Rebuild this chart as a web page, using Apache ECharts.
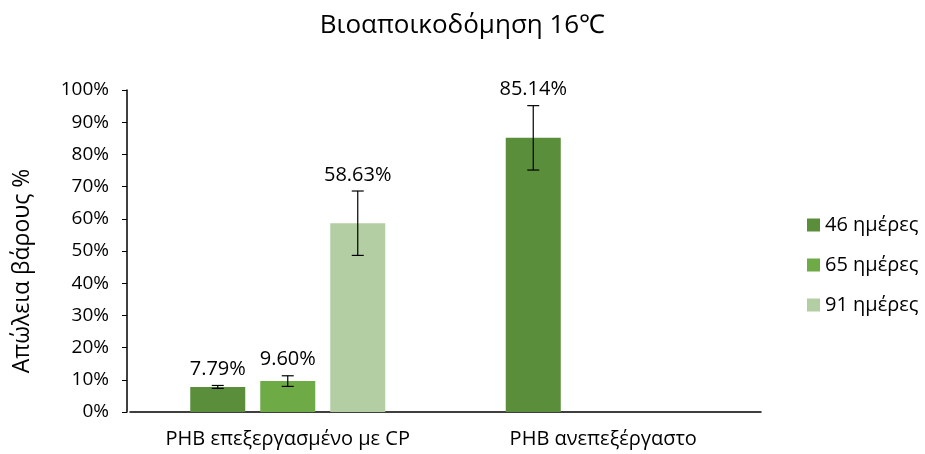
<!DOCTYPE html>
<html><head><meta charset="utf-8">
<script src="https://cdn.jsdelivr.net/npm/echarts@6/dist/echarts.min.js"></script>
<style>html,body{margin:0;padding:0;background:#fff}#c{width:925px;height:454px}</style>
</head><body><div id="c"></div>
<script>
const categories = ['PHB επεξεργασμένο με CP', 'PHB ανεπεξέργαστο'];
const seriesNames = ['46 ημέρες', '65 ημέρες', '91 ημέρες'];
const values46 = [7.79, 85.14];
const values65 = [9.60, null];
const values91 = [58.63, null];
const err46 = [0.45, 10];
const err65 = [1.65, null];
const err91 = [10, null];
const colors = ['#5A8E3A', '#6EAB46', '#B3CEA3'];
const FONT = 'Open Sans';

const vals = [values46, values65, values91];
const errs = [err46, err65, err91];
const BW = 55, STEP = 70;

const series = [];
seriesNames.forEach((n, i) => {
  series.push({
    name: n, type: 'bar', data: vals[i], barWidth: BW, barGap: ((STEP - BW) / BW * 100) + '%',
    itemStyle: { color: colors[i] }, z: 2
  });
});
seriesNames.forEach((n, i) => {
  const d = [];
  vals[i].forEach((v, k) => { if (v != null) d.push([k, v, errs[i][k]]); });
  series.push({
    type: 'custom', name: n + '_err', z: 5,
    data: d,
    renderItem: function (params, api) {
      const k = api.value(0), v = api.value(1), e = api.value(2);
      const base = api.coord([k, v]);
      const x = base[0] + (i - 1) * STEP;
      const yTop = api.coord([k, v + e])[1];
      const yBot = api.coord([k, v - e])[1];
      const cap = 6;
      return {
        type: 'group', children: [
          { type: 'line', shape: { x1: x, y1: yTop, x2: x, y2: yBot }, style: { stroke: '#000', lineWidth: 1.2 } },
          { type: 'line', shape: { x1: x - cap, y1: yTop, x2: x + cap, y2: yTop }, style: { stroke: '#000', lineWidth: 1.2 } },
          { type: 'line', shape: { x1: x - cap, y1: yBot, x2: x + cap, y2: yBot }, style: { stroke: '#000', lineWidth: 1.2 } },
          { type: 'text', x: x, y: yTop - 6, style: { text: v.toFixed(2) + '%', fill: '#000', font: '20px "' + FONT + '"', align: 'center', verticalAlign: 'bottom' } }
        ]
      };
    }
  });
});

const chart = echarts.init(document.getElementById('c'), null, { renderer: 'canvas' });
chart.setOption({
  animation: false,
  backgroundColor: '#fff',
  title: { text: 'Βιοαποικοδόμηση 16℃', left: 'center', top: 8, textStyle: { fontFamily: FONT, fontSize: 26, fontWeight: 'normal', color: '#000' } },
  grid: { left: 130, right: 164, top: 90, bottom: 42 },
  legend: {
    orient: 'vertical', left: 802, top: 210, itemGap: 20, itemWidth: 13, itemHeight: 13,
    data: seriesNames, icon: 'rect',
    textStyle: { fontFamily: FONT, fontSize: 20, color: '#000' }
  },
  xAxis: {
    type: 'category', data: categories,
    axisLine: { lineStyle: { color: '#000', width: 1.5 } },
    axisTick: { show: false },
    axisLabel: { interval: 0, hideOverlap: false, fontFamily: FONT, fontSize: 20, color: '#000', margin: 17 }
  },
  yAxis: {
    type: 'value', min: 0, max: 100, interval: 10, offset: 3,
    axisLine: { show: true, lineStyle: { color: '#000', width: 1.5 } },
    axisTick: { show: true, length: 5, lineStyle: { color: '#000' } },
    splitLine: { show: false },
    axisLabel: { formatter: '{value}%', fontFamily: FONT, fontSize: 19, color: '#000', margin: 18 }
  },
  graphic: [{
    type: 'text', x: 22, y: 271, rotation: Math.PI / 2,
    style: { text: 'Απώλεια βάρους %', font: '23px "' + FONT + '"', fill: '#000', align: 'center', verticalAlign: 'middle' }
  }],
  series: series
});
</script></body></html>
